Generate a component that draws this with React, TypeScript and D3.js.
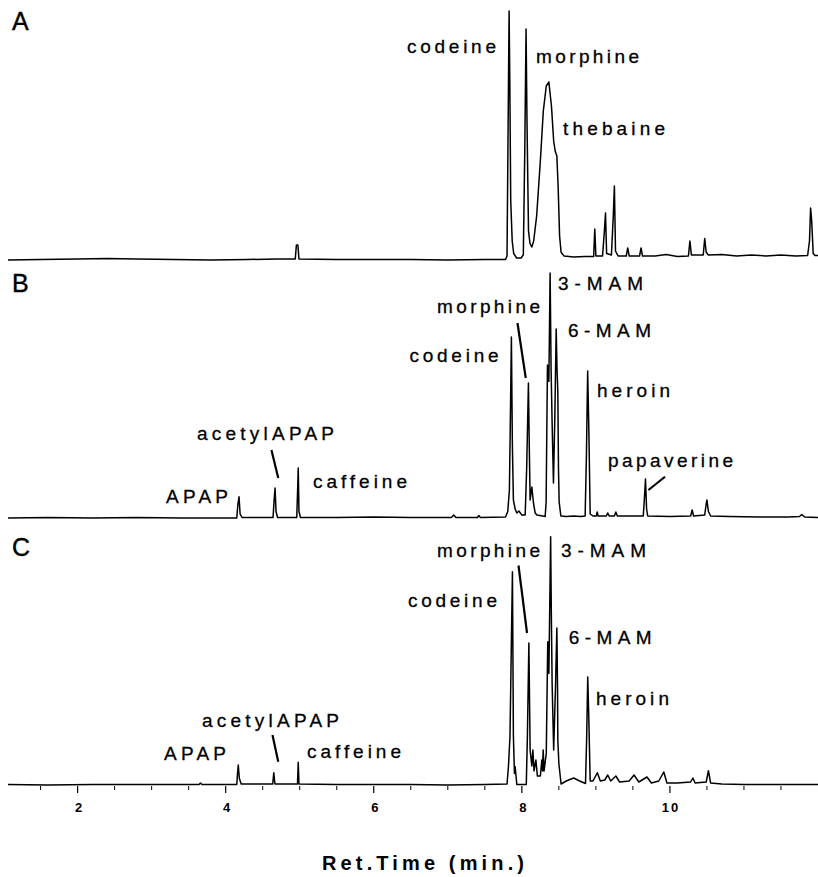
import React from "react";
import * as d3 from "d3";

// Retention time (min) vs detector signal (% of panel full scale)
const TRACE_A: [number, number][] = [
  [1.06,0.4],[1.5,0.6],[2.0,0.8],[2.4,1.0],[2.8,0.8],[3.3,0.6],[3.8,0.4],[4.3,0.6],[4.7,0.8],[4.94,0.8],[4.955,6.4],[4.975,6.4],[4.99,0.8],[5.5,0.6],[6.0,0.6],[6.5,0.6],[7.0,0.4],[7.5,0.6],[7.78,0.6],
  [7.80,2],[7.815,55],[7.828,100],[7.838,70],[7.85,24],[7.87,8],[7.89,3],[7.93,1.2],[7.99,1.2],
  [8.02,2.5],[8.04,45],[8.057,92.8],[8.07,55],[8.09,12],[8.11,7],[8.135,5.6],
  [8.16,8],[8.2,18],[8.25,40],[8.29,60],[8.33,70],[8.365,71.6],[8.40,62],[8.43,48],[8.45,44],[8.473,42],[8.49,30],[8.51,10],[8.53,3.5],[8.57,2],
  [8.7,1.6],[8.85,1.8],[8.97,1.8],[8.985,12.8],[9.0,2],[9.09,2],[9.115,12],[9.13,19.2],[9.145,3],[9.21,2.4],[9.235,18],[9.25,30],[9.265,4],[9.3,2],
  [9.41,2],[9.43,5.2],[9.45,2],[9.59,2],[9.61,5.2],[9.63,2],[9.8,2],[9.95,2.6],[10.1,1.8],[10.25,2],[10.27,8],[10.29,2.4],[10.45,2.4],[10.47,9],[10.49,3.5],[10.52,2.4],
  [10.7,2.6],[10.9,2],[11.1,2.4],[11.3,2],[11.5,2.4],[11.7,2],[11.86,2.2],[11.885,8],[11.9,21.2],[11.915,16],[11.935,3],[11.96,2.2],[12.0,2.2],
];

const TRACE_B: [number, number][] = [
  [1.06,0.4],[1.6,0.6],[2.2,0.4],[2.8,0.6],[3.4,0.4],[3.9,0.4],[4.15,0.4],[4.165,6],[4.18,8.9],[4.195,2],[4.22,0.6],[4.5,0.6],
  [4.64,0.6],[4.655,8],[4.667,12.4],[4.68,3],[4.7,0.6],[4.96,0.6],[4.972,12],[4.98,20.4],[4.99,3],[5.01,0.6],
  [5.5,0.6],[6.0,0.8],[6.5,0.6],[7.05,0.6],[7.08,1.6],[7.11,0.6],[7.4,0.6],[7.42,1.4],[7.44,0.6],[7.78,0.8],
  [7.81,3],[7.832,11.6],[7.845,40],[7.859,72.8],[7.872,30],[7.886,7.6],[7.91,4],[7.932,2.4],[7.96,3.2],[8.0,1.6],
  [8.045,1.6],[8.065,20],[8.089,54.4],[8.1,30],[8.112,7.6],[8.135,12.8],[8.157,6.4],[8.18,2.4],[8.203,1.6],[8.28,1.2],
  [8.315,1],[8.328,6.8],[8.346,61.6],[8.365,55],[8.382,98.4],[8.395,60],[8.409,38.4],[8.427,14.4],[8.445,40],[8.464,76],[8.475,60],[8.486,51],[8.495,20],[8.504,6.8],[8.527,1.2],
  [8.6,1],[8.7,1.2],[8.8,1],[8.855,1.2],[8.872,25],[8.889,59.2],[8.905,35.6],[8.923,2],[8.96,1.2],
  [9.005,1.2],[9.018,2.8],[9.03,1.2],[9.14,1.2],[9.16,2.4],[9.18,1.2],[9.25,1.2],[9.27,2.8],[9.29,1.2],[9.5,1.2],
  [9.64,1.2],[9.655,8],[9.67,16],[9.685,4],[9.7,1.2],[10.0,1],[10.28,1.2],[10.3,3.6],[10.32,1.2],[10.47,1.6],[10.49,6],[10.5,7.6],[10.52,3],[10.55,1.2],
  [10.8,1],[11.2,0.8],[11.6,0.8],[11.75,1.0],[11.78,1.8],[11.82,0.8],[12.0,0.6],
];

const TRACE_C: [number, number][] = [
  [1.06,0.6],[1.6,0.4],[2.2,0.6],[2.8,0.6],[3.3,0.6],[3.64,0.6],[3.66,1.2],[3.68,0.6],[4.15,0.6],[4.16,5],[4.17,8.4],[4.185,3],[4.21,0.8],
  [4.5,0.8],[4.635,0.8],[4.65,5.3],[4.665,0.8],[4.97,0.8],[4.98,9.5],[4.99,0.8],[5.5,0.6],[6.0,0.6],[6.5,0.6],[7.0,0.4],[7.5,0.6],[7.8,0.8],
  [7.819,7.7],[7.84,20],[7.873,85.7],[7.886,20],[7.9,5],[7.91,7.7],[7.932,0.6],[8.06,0.6],[8.075,20],[8.095,57.2],[8.112,14.4],
  [8.135,8],[8.149,14.4],[8.165,6],[8.19,10.4],[8.21,4],[8.25,4],[8.27,10.4],[8.28,6],[8.288,14.4],[8.3,6],
  [8.33,13],[8.35,57.7],[8.365,45],[8.389,99.7],[8.398,70],[8.409,41],[8.43,14.4],[8.455,40],[8.473,63.2],[8.482,40],[8.486,18.4],[8.5,9],[8.53,0.8],
  [8.6,2],[8.7,3.2],[8.78,2],[8.86,1],[8.876,20],[8.89,43.6],[8.905,26.4],[8.923,2],[8.96,2],[9.02,5.3],[9.06,2],[9.12,2.4],[9.16,4.4],[9.2,2],
  [9.27,4],[9.32,1.6],[9.45,2],[9.515,4.4],[9.58,1.6],[9.69,3.6],[9.75,1.2],[9.85,2],[9.917,5.6],[9.96,1.2],[10.1,1.2],[10.28,1.6],[10.31,3.2],[10.34,1.2],
  [10.49,1.6],[10.52,6.1],[10.55,1.2],[10.7,0.8],[11.0,0.6],[11.5,0.6],[12.0,0.6],
];

const PANEL_IDS = ["A", "B", "C"];
const TRACES = [TRACE_A, TRACE_B, TRACE_C];

// Peak labels: [text, time, signal]
const LABELS_A: [string, number, number][] = [
  ["codeine", 6.449, 83.2], ["morphine", 8.191, 79.2], ["thebaine", 8.556, 50.4],
];
const LABELS_B: [string, number, number][] = [
  ["3-MAM", 8.488, 91.6], ["morphine", 6.854, 82.4], ["6-MAM", 8.623, 72.8], ["codeine", 6.483, 62.8],
  ["heroin", 9.015, 48.8], ["acetylAPAP", 3.613, 31.6], ["papaverine", 9.164, 20.8], ["caffeine", 5.179, 12.4], ["APAP", 3.194, 6.4],
];
const LABELS_C: [string, number, number][] = [
  ["morphine", 6.854, 91.6], ["3-MAM", 8.529, 91.6], ["codeine", 6.462, 71.6], ["6-MAM", 8.632, 56.8],
  ["heroin", 9.001, 32.4], ["acetylAPAP", 3.68, 23.6], ["APAP", 3.167, 10.4], ["caffeine", 5.098, 11.2],
];
const LABELS = [LABELS_A, LABELS_B, LABELS_C];

// Leader lines: [t1, v1, t2, v2]
const LEADERS_A: [number, number, number, number][] = [];
const LEADERS_B: [number, number, number, number][] = [
  [7.941, 78.4, 8.053, 56.4], [4.618, 27.6, 4.71, 16.4], [9.934, 16.9, 9.71, 11.6],
];
const LEADERS_C: [number, number, number, number][] = [
  [7.955, 88.2, 8.07, 61.2], [4.632, 20.4, 4.71, 9.7],
];
const LEADERS = [LEADERS_A, LEADERS_B, LEADERS_C];

const MAJOR_TICKS = [2, 4, 6, 8, 10];
const MINOR_TICKS = [1.5, 2.5, 3, 3.5, 4.5, 5, 5.5, 6.5, 7, 7.5, 8.5, 9, 9.5, 10.5, 11, 11.5];
const X_TITLE = "Ret.Time (min.)";

// layout
const W = 818, H = 877;
const BASELINES = [261, 519, 786];
const PANEL_H = 250;
const LETTER_Y = [30, 292, 556];
const LABEL_WIDTH: Record<string, number> = {
  codeine: 89, morphine: 103, thebaine: 102, "3-MAM": 85, "6-MAM": 83, heroin: 73,
  acetylAPAP: 137, papaverine: 125, caffeine: 94, APAP: 62,
};
const FONT = "'Liberation Sans', Arial, Helvetica, sans-serif";

export default function App() {
  const x = d3.scaleLinear().domain([1.06, 12.0]).range([8, 818]);
  return (
    <svg width={W} height={H} style={{ position: "absolute", left: 0, top: 0, background: "#fff" }}>
      <rect width={W} height={H} fill="#fff" />
      {PANEL_IDS.map((id, i) => {
        const y = d3.scaleLinear().domain([0, 100]).range([BASELINES[i], BASELINES[i] - PANEL_H]);
        const line = d3.line<[number, number]>().x((d) => x(d[0])).y((d) => y(d[1]));
        return (
          <g key={id}>
            <text x={12} y={LETTER_Y[i]} fontFamily={FONT} fontSize={25} fill="#000" stroke="#000" strokeWidth={0.4}>{id}</text>
            <path d={line(TRACES[i]) || ""} fill="none" stroke="#000" strokeWidth={1.5} strokeLinejoin="round" />
            {LEADERS[i].map((l, k) => (
              <line key={k} x1={x(l[0])} y1={y(l[1])} x2={x(l[2])} y2={y(l[3])} stroke="#000" strokeWidth={2.2} />
            ))}
            {LABELS[i].map(([txt, t, v]) => (
              <text key={txt} x={x(t)} y={y(v)} fontFamily={FONT} fontSize={19} fill="#000" stroke="#000" strokeWidth={0.3}
                textLength={LABEL_WIDTH[txt]} lengthAdjust="spacing">{txt}</text>
            ))}
          </g>
        );
      })}
      <g>
        {MAJOR_TICKS.map((t) => (
          <g key={t}>
            <line x1={x(t)} x2={x(t)} y1={BASELINES[2]} y2={BASELINES[2] + 7} stroke="#000" strokeWidth={1.2} />
            <text x={x(t) + 1} y={812} textAnchor="middle" fontFamily={FONT} fontSize={13} fontWeight="bold" letterSpacing={t >= 10 ? 2 : 0}>{t}</text>
          </g>
        ))}
        {MINOR_TICKS.map((t) => (
          <line key={t} x1={x(t)} x2={x(t)} y1={BASELINES[2]} y2={BASELINES[2] + 4} stroke="#000" strokeWidth={1} />
        ))}
        <text x={423} y={870} textAnchor="middle" fontFamily={FONT} fontSize={20} fontWeight="bold"
          textLength={202} lengthAdjust="spacing">{X_TITLE}</text>
      </g>
    </svg>
  );
}
